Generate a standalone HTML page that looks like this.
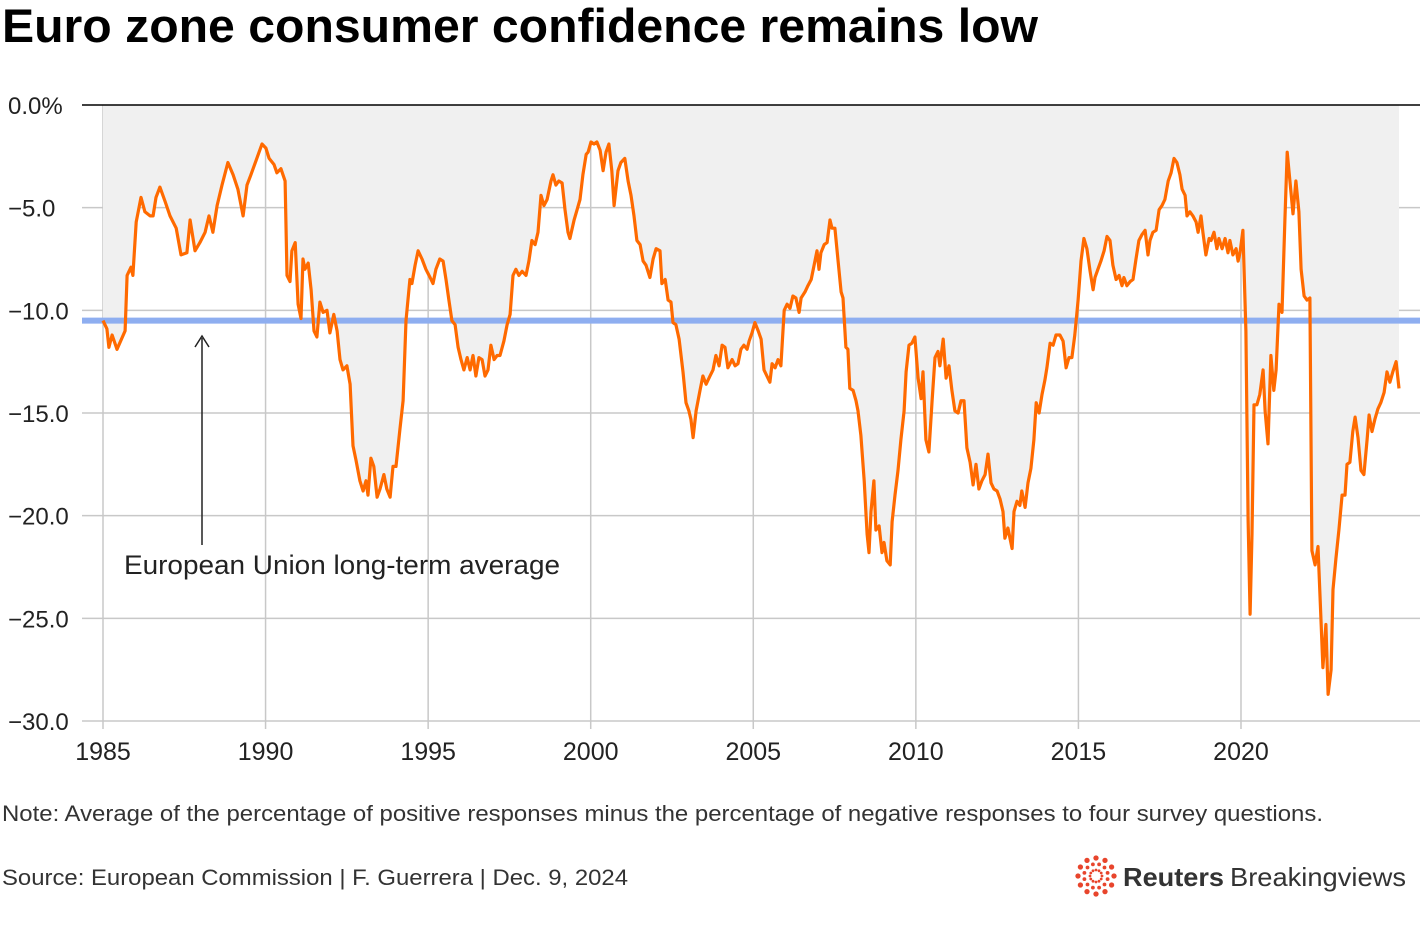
<!DOCTYPE html>
<html><head><meta charset="utf-8">
<style>
body{margin:0;background:#fff;width:1420px;height:926px;overflow:hidden;font-family:"Liberation Sans",sans-serif;}
svg{display:block}
</style></head>
<body>
<svg id="chart" width="1420" height="926">
<text x="2" y="42" font-size="47" font-weight="bold" textLength="1036" lengthAdjust="spacingAndGlyphs" fill="#000">Euro zone consumer confidence remains low</text>
<g id="grid"></g>
<g id="plot"></g>
<g id="axes"></g>
<line x1="202" y1="545" x2="202" y2="338" stroke="#222" stroke-width="1.5"/>
<path d="M195,347 L202,336 L209,347" fill="none" stroke="#222" stroke-width="1.5"/>
<text x="124" y="574" font-size="27" fill="#222" textLength="436" lengthAdjust="spacingAndGlyphs">European Union long-term average</text>
<text x="2" y="821" font-size="22" fill="#333" textLength="1321" lengthAdjust="spacingAndGlyphs">Note: Average of the percentage of positive responses minus the percentage of negative responses to four survey questions.</text>
<text x="2" y="885" font-size="22" fill="#333" textLength="626" lengthAdjust="spacingAndGlyphs">Source: European Commission | F. Guerrera | Dec. 9, 2024</text>
<g>
<g id="logo-dots"></g>
<text x="1123" y="886" font-size="26" font-weight="bold" fill="#333" textLength="101" lengthAdjust="spacingAndGlyphs">Reuters</text>
<text x="1230" y="886" font-size="26" fill="#333" textLength="176" lengthAdjust="spacingAndGlyphs">Breakingviews</text>
</g>
</svg>
<script>
const yearsSince1985=[0,0.12,0.18,0.28,0.43,0.68,0.74,0.86,0.92,1.02,1.17,1.29,1.45,1.54,1.63,1.75,1.91,2.06,2.25,2.40,2.58,2.68,2.83,2.98,3.14,3.26,3.38,3.51,3.66,3.84,4.00,4.15,4.31,4.43,4.55,4.71,4.89,5.01,5.11,5.26,5.35,5.47,5.60,5.66,5.75,5.81,5.91,6.00,6.09,6.15,6.21,6.31,6.40,6.49,6.58,6.67,6.77,6.89,6.98,7.10,7.20,7.29,7.38,7.50,7.60,7.69,7.78,7.90,8.00,8.09,8.15,8.24,8.33,8.43,8.52,8.64,8.73,8.83,8.92,9.01,9.13,9.23,9.32,9.44,9.50,9.60,9.69,9.81,9.93,10.06,10.15,10.24,10.36,10.46,10.55,10.64,10.73,10.83,10.92,11.01,11.10,11.20,11.29,11.38,11.47,11.56,11.66,11.75,11.84,11.93,12.03,12.12,12.21,12.33,12.43,12.52,12.61,12.70,12.79,12.89,13.01,13.10,13.19,13.29,13.38,13.47,13.56,13.66,13.78,13.84,13.93,14.02,14.12,14.21,14.30,14.36,14.49,14.58,14.67,14.76,14.86,14.92,15.01,15.10,15.19,15.29,15.38,15.47,15.56,15.65,15.72,15.84,15.93,16.05,16.15,16.24,16.33,16.42,16.52,16.61,16.70,16.82,16.92,17.01,17.13,17.19,17.29,17.38,17.47,17.53,17.62,17.72,17.84,17.93,18.02,18.08,18.15,18.24,18.36,18.45,18.55,18.67,18.76,18.85,18.95,19.04,19.13,19.22,19.35,19.44,19.53,19.62,19.71,19.81,19.87,19.96,20.05,20.15,20.24,20.33,20.42,20.51,20.58,20.67,20.76,20.85,20.95,21.04,21.13,21.22,21.31,21.41,21.47,21.59,21.68,21.78,21.87,21.96,22.02,22.08,22.18,22.27,22.36,22.42,22.51,22.61,22.70,22.76,22.85,22.91,22.97,23.07,23.16,23.22,23.31,23.41,23.50,23.56,23.62,23.71,23.77,23.87,23.96,24.02,24.11,24.21,24.27,24.36,24.45,24.54,24.64,24.70,24.79,24.88,24.97,25.07,25.16,25.22,25.31,25.40,25.50,25.59,25.68,25.74,25.84,25.93,26.02,26.11,26.20,26.30,26.39,26.48,26.57,26.67,26.76,26.85,26.94,27.03,27.13,27.22,27.31,27.40,27.50,27.59,27.68,27.74,27.83,27.96,28.02,28.11,28.20,28.26,28.36,28.45,28.54,28.63,28.70,28.79,28.88,28.97,29.03,29.13,29.22,29.31,29.43,29.53,29.62,29.71,29.80,29.89,29.99,30.08,30.17,30.26,30.36,30.45,30.51,30.60,30.69,30.79,30.88,30.97,31.06,31.16,31.25,31.34,31.40,31.49,31.59,31.68,31.77,31.86,31.96,32.05,32.14,32.20,32.29,32.39,32.48,32.57,32.66,32.76,32.85,32.94,33.03,33.12,33.19,33.28,33.34,33.43,33.52,33.62,33.68,33.77,33.83,33.92,34.02,34.08,34.17,34.26,34.32,34.42,34.51,34.60,34.66,34.75,34.85,34.91,34.97,35.06,35.15,35.22,35.28,35.34,35.40,35.49,35.58,35.68,35.74,35.83,35.92,36.01,36.08,36.17,36.26,36.35,36.42,36.51,36.60,36.69,36.78,36.85,36.94,37.03,37.12,37.18,37.28,37.37,37.46,37.52,37.61,37.68,37.77,37.83,37.92,38.01,38.11,38.20,38.26,38.35,38.44,38.51,38.60,38.69,38.78,38.88,38.94,39.03,39.12,39.21,39.30,39.40,39.49,39.58,39.67,39.77,39.86];
const confidence=[-10.5,-10.9,-11.8,-11.2,-11.9,-11.0,-8.3,-7.9,-8.3,-5.7,-4.5,-5.2,-5.4,-5.4,-4.5,-4.0,-4.7,-5.4,-6.0,-7.3,-7.2,-5.6,-7.1,-6.7,-6.2,-5.4,-6.2,-4.9,-3.9,-2.8,-3.4,-4.1,-5.4,-3.9,-3.4,-2.7,-1.9,-2.1,-2.6,-2.9,-3.3,-3.1,-3.7,-8.3,-8.6,-7.1,-6.7,-9.7,-10.4,-7.5,-8.0,-7.7,-9.0,-11.0,-11.3,-9.6,-10.1,-10.0,-11.1,-10.2,-11.0,-12.4,-12.9,-12.7,-13.6,-16.6,-17.3,-18.3,-18.8,-18.3,-19.0,-17.2,-17.6,-19.1,-18.7,-18.0,-18.7,-19.1,-17.6,-17.6,-15.8,-14.4,-10.5,-8.5,-8.7,-7.8,-7.1,-7.5,-8.0,-8.4,-8.7,-8.0,-7.5,-7.6,-8.5,-9.5,-10.5,-10.7,-11.8,-12.4,-12.9,-12.3,-12.9,-12.2,-13.2,-12.3,-12.4,-13.2,-12.9,-11.7,-12.4,-12.2,-12.2,-11.5,-10.7,-10.2,-8.3,-8.0,-8.3,-8.1,-8.3,-7.6,-6.6,-6.8,-6.2,-4.4,-4.9,-4.6,-3.7,-3.4,-3.9,-3.7,-3.8,-5.1,-6.2,-6.5,-5.6,-5.1,-4.6,-3.4,-2.4,-2.3,-1.8,-1.9,-1.8,-2.2,-3.2,-2.3,-1.9,-3.2,-4.9,-3.2,-2.8,-2.6,-3.7,-4.4,-5.4,-6.6,-6.8,-7.6,-7.8,-8.4,-7.5,-7.0,-7.1,-8.7,-8.5,-9.5,-9.6,-10.6,-10.7,-11.4,-13.0,-14.5,-14.9,-15.3,-16.2,-14.9,-13.9,-13.2,-13.6,-13.2,-12.9,-12.2,-12.7,-11.7,-11.8,-12.8,-12.4,-12.7,-12.6,-11.9,-11.7,-11.9,-11.5,-11.1,-10.6,-11.0,-11.4,-12.9,-13.2,-13.5,-12.6,-12.8,-12.4,-12.7,-10.0,-9.7,-9.9,-9.3,-9.4,-10.1,-9.4,-9.1,-8.8,-8.5,-7.8,-7.1,-8.0,-7.2,-6.8,-6.7,-5.6,-6.0,-6.0,-7.6,-9.1,-9.4,-11.8,-11.9,-13.8,-13.9,-14.4,-14.9,-16.1,-18.3,-20.9,-21.8,-19.8,-18.3,-20.7,-20.5,-21.8,-21.3,-22.2,-22.4,-20.3,-19.0,-17.8,-16.3,-14.9,-13.0,-11.7,-11.6,-11.3,-13.3,-14.3,-13.0,-16.3,-16.9,-14.4,-12.3,-12.0,-12.7,-11.4,-13.3,-12.7,-13.9,-14.9,-15.0,-14.4,-14.4,-16.7,-17.4,-18.5,-17.5,-18.7,-18.3,-18.0,-17.0,-18.4,-18.7,-18.8,-19.2,-19.8,-21.1,-20.6,-21.6,-19.8,-19.3,-19.5,-18.8,-19.6,-18.4,-17.7,-16.3,-14.5,-15.0,-14.1,-13.4,-12.8,-11.6,-11.7,-11.2,-11.2,-11.5,-12.8,-12.3,-12.3,-11.2,-9.5,-7.6,-6.5,-7.0,-8.1,-9.0,-8.4,-8.0,-7.6,-7.1,-6.4,-6.6,-7.8,-8.5,-8.3,-8.8,-8.4,-8.8,-8.6,-8.5,-7.5,-6.6,-6.3,-6.1,-7.3,-6.6,-6.2,-6.1,-5.1,-4.9,-4.6,-3.7,-3.3,-2.6,-2.8,-3.4,-4.1,-4.4,-5.4,-5.2,-5.4,-5.7,-6.2,-5.4,-6.2,-7.3,-6.5,-6.6,-6.2,-7.0,-6.5,-7.0,-6.5,-7.2,-6.6,-7.3,-7.0,-7.6,-7.2,-6.1,-11.0,-20.2,-24.8,-20.9,-14.6,-14.6,-14.1,-12.9,-14.9,-16.5,-12.2,-13.9,-12.9,-9.7,-10.1,-5.6,-2.3,-3.8,-5.3,-3.7,-5.2,-8.0,-9.3,-9.5,-9.4,-21.7,-22.4,-21.5,-25.1,-27.4,-25.3,-28.7,-27.5,-23.6,-22.1,-20.7,-19.0,-19.0,-17.5,-17.4,-15.9,-15.2,-16.2,-17.8,-18.0,-16.3,-15.1,-15.9,-15.3,-14.8,-14.5,-14.0,-13.0,-13.5,-13.0,-12.5,-13.8];
const longTermAverage=-10.5;
const yTicks=[0,-5,-10,-15,-20,-25,-30];
const yTickLabels=["0.0%","\u22125.0","\u221210.0","\u221215.0","\u221220.0","\u221225.0","\u221230.0"];
const xTicks=[1985,1990,1995,2000,2005,2010,2015,2020];

const NS="http://www.w3.org/2000/svg";
const X=yr=>103+(yr-1985)*32.514;
const Y=v=>105+(-v)*20.533;
function mk(tag,attrs,parent){const e=document.createElementNS(NS,tag);for(const k in attrs)e.setAttribute(k,attrs[k]);parent.appendChild(e);return e;}
const grid=document.getElementById('grid'),plot=document.getElementById('plot'),axes=document.getElementById('axes');

let pts=yearsSince1985.map((t,i)=>X(1985+t).toFixed(1)+','+Y(confidence[i]).toFixed(1));
const area=mk('polygon',{points:X(1985)+','+Y(0)+' '+pts.join(' ')+' '+X(1985+yearsSince1985[yearsSince1985.length-1])+','+Y(0),fill:'#f0f0f0'},plot);



yTicks.forEach((v,i)=>{
  if(v!==0){const l=mk('line',{x1:82,x2:1420,y1:Y(v),y2:Y(v),stroke:'#c8c8c8','stroke-width':1.5},grid);
  
  }
  const t=mk('text',{x:8,y:Y(v)+9,'font-size':24,fill:'#222'},axes);
  t.textContent=yTickLabels[i];
  
  
});
xTicks.forEach(yr=>{
  const l=mk('line',{x1:X(yr),x2:X(yr),y1:Y(0),y2:Y(-30)+8,stroke:'#c8c8c8','stroke-width':1.5},grid);
  
  
  const t=mk('text',{x:X(yr),y:760,'font-size':25,fill:'#222','text-anchor':'middle'},axes);
  t.textContent=yr;
  
  
});
const avg=mk('line',{x1:82,x2:1420,y1:Y(longTermAverage),y2:Y(longTermAverage),stroke:'#8eaef0','stroke-width':6},plot);


const zero=mk('line',{x1:82,x2:1420,y1:Y(0),y2:Y(0),stroke:'#000','stroke-width':1.5},axes);


const line=mk('polyline',{points:pts.join(' '),fill:'none',stroke:'#ff6a00','stroke-width':3.2,'stroke-linejoin':'round'},plot);



const ld=document.getElementById('logo-dots');
[[18,4.5],[12,3],[6,2]].forEach(([r,s])=>{
  for(let k=0;k<12;k++){const a=k*Math.PI/6+(r===12?Math.PI/12:0);
    mk('circle',{cx:1096+r*Math.cos(a),cy:876+r*Math.sin(a),r:s/2+0.4,fill:'#e8452c'},ld);}
});
</script>
</body></html>
